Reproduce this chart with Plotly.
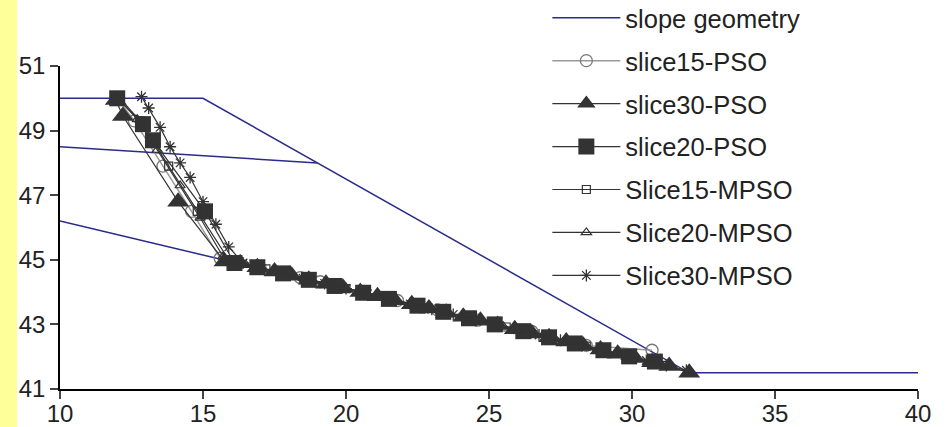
import plotly.graph_objects as go

# slope geometry (segments separated by None)
geom_x = [10, 15, 32, 40, None, 10, 19, None, 10, 15.7]
geom_y = [50, 50, 41.5, 41.5, None, 48.5, 48.0, None, 46.2, 45.0]

s15_pso_x = [12.0, 12.6, 13.6, 14.6, 15.6, 17.0, 18.4, 19.1, 20.5, 21.8, 22.5, 23.2, 24.6, 26.5, 28.4, 30.7]
s15_pso_y = [50.0, 49.3, 47.9, 46.5, 45.05, 44.75, 44.45, 44.32, 44.0, 43.74, 43.6, 43.45, 43.13, 42.78, 42.35, 42.2]

s30_pso_x = [11.95, 12.2, 14.13, 15.75, 16.3, 16.9, 17.5, 18.1, 18.7, 19.3, 19.9, 20.5, 21.1, 21.7, 22.3, 22.9,
             23.5, 24.1, 24.7, 25.3, 25.9, 26.5, 27.1, 27.7, 28.3, 28.9, 29.5, 30.1, 30.7, 31.3, 32.0]
s30_pso_y = [49.95, 49.45, 46.8, 44.95, 44.89, 44.77, 44.64, 44.51, 44.38, 44.26, 44.13, 44.0, 43.87, 43.75, 43.62, 43.49,
             43.36, 43.24, 43.11, 42.98, 42.85, 42.72, 42.6, 42.47, 42.34, 42.22, 42.09, 41.96, 41.83, 41.71, 41.5]

s20_pso_x = [12.0, 12.9, 13.25, 15.07, 16.1, 16.9, 17.8, 18.7, 19.6, 20.6, 21.5, 22.5, 23.4, 24.3, 25.2, 26.2,
             27.1, 28.0, 29.0, 29.9, 30.8]
s20_pso_y = [50.0, 49.2, 48.7, 46.5, 44.9, 44.77, 44.58, 44.38, 44.19, 43.98, 43.79, 43.58, 43.39, 43.19, 43.0, 42.79,
             42.6, 42.41, 42.2, 42.01, 41.85]

s15_mpso_x = [12.1, 12.8, 13.8, 14.8, 15.9, 17.2, 18.6, 20.0, 21.4, 22.8, 24.2, 25.6, 27.0, 28.4, 29.8, 31.2]
s15_mpso_y = [50.0, 49.3, 47.9, 46.5, 45.0, 44.72, 44.42, 44.11, 43.81, 43.51, 43.22, 42.92, 42.62, 42.33, 42.03, 41.73]

s20_mpso_x = [12.05, 12.7, 13.4, 14.2, 14.9, 15.7, 16.5, 17.5, 18.5, 19.5, 20.5, 21.5, 22.5, 23.5, 24.5, 25.5,
              26.6, 27.7, 28.8, 29.9, 31.0]
s20_mpso_y = [50.0, 49.35, 48.4, 47.3, 46.3, 45.1, 44.85, 44.64, 44.43, 44.21, 44.0, 43.79, 43.58, 43.36, 43.15, 42.94,
              42.7, 42.47, 42.24, 42.0, 41.77]

s30_mpso_x = [12.85, 13.1, 13.5, 13.85, 14.2, 14.55, 15.0, 15.45, 15.9, 16.4, 17.0, 17.75, 18.5, 19.25, 20.0, 20.75,
              21.5, 22.25, 23.0, 23.75, 24.5, 25.25, 26.0, 26.75, 27.5, 28.25, 29.0, 29.75, 30.5, 31.2, 31.9]
s30_mpso_y = [50.05, 49.7, 49.1, 48.5, 48.0, 47.55, 46.8, 46.1, 45.4, 44.9, 44.75, 44.59, 44.43, 44.27, 44.11, 43.95,
              43.79, 43.63, 43.47, 43.31, 43.15, 42.99, 42.83, 42.67, 42.51, 42.35, 42.19, 42.04, 41.88, 41.73, 41.58]

x_ticks = [10, 15, 20, 25, 30, 35, 40]
y_ticks = [41, 43, 45, 47, 49, 51]

DARK = "#333333"
NAVY = "#2a2a8c"

fig = go.Figure()
fig.add_trace(go.Scatter(x=geom_x, y=geom_y, mode="lines", name="slope geometry",
                         line=dict(color=NAVY, width=1.5), legendgroup="g0"))
fig.add_trace(go.Scatter(x=s15_pso_x, y=s15_pso_y, mode="lines+markers", name="slice15-PSO",
                         line=dict(color="#999999", width=1.5),
                         marker=dict(symbol="circle-open", size=12, color="#777777", line=dict(width=1.3)),
                         legendgroup="g1"))
fig.add_trace(go.Scatter(x=s30_pso_x, y=s30_pso_y, mode="lines+markers", name="slice30-PSO",
                         line=dict(color=DARK, width=1.2),
                         marker=dict(symbol="triangle-up", size=19, color=DARK),
                         legendgroup="g2"))
fig.add_trace(go.Scatter(x=s20_pso_x, y=s20_pso_y, mode="lines+markers", name="slice20-PSO",
                         line=dict(color=DARK, width=1.2),
                         marker=dict(symbol="square", size=16, color=DARK),
                         legendgroup="g3"))
fig.add_trace(go.Scatter(x=s15_mpso_x, y=s15_mpso_y, mode="lines+markers", name="Slice15-MPSO",
                         line=dict(color=DARK, width=1.2),
                         marker=dict(symbol="square-open", size=8, color=DARK, line=dict(width=1.2)),
                         legendgroup="g4"))
fig.add_trace(go.Scatter(x=s20_mpso_x, y=s20_mpso_y, mode="lines+markers", name="Slice20-MPSO",
                         line=dict(color=DARK, width=1.2),
                         marker=dict(symbol="triangle-up-open", size=9, color=DARK, line=dict(width=1.2)),
                         legendgroup="g5"))
fig.add_trace(go.Scatter(x=s30_mpso_x, y=s30_mpso_y, mode="lines+markers", name="Slice30-MPSO",
                         line=dict(color=DARK, width=1.2),
                         marker=dict(symbol="asterisk-open", size=10, color=DARK, line=dict(width=1.3, color=DARK)),
                         legendgroup="g6"))

fig.update_layout(
    width=947, height=427,
    margin=dict(l=60, r=29, t=66, b=38, autoexpand=False),
    paper_bgcolor="white", plot_bgcolor="white",
    font=dict(family="Liberation Sans, Arial, sans-serif", color="#222222"),
    showlegend=True,
    legend=dict(x=0.568, y=1.221, xanchor="left", yanchor="top",
                font=dict(size=25.5, color="#222222"), bgcolor="rgba(0,0,0,0)",
                itemwidth=68, tracegroupgap=6.8, traceorder="grouped", maxheight=420),
    shapes=[dict(type="rect", xref="paper", yref="paper", x0=-60/858, x1=-43/858, y0=-0.2, y1=1.3,
                 fillcolor="#ffff99", line=dict(width=0), layer="below")],
)
fig.update_xaxes(range=[10, 40], tickvals=x_ticks, ticks="outside", ticklen=8, tickwidth=1.5,
                 showline=True, linecolor="black", linewidth=1.5, showgrid=False, zeroline=False,
                 tickfont=dict(size=24, color="#222222"), ticklabelstandoff=-6)
fig.update_yaxes(range=[41, 51], tickvals=y_ticks, ticks="outside", ticklen=8, tickwidth=1.5,
                 showline=True, linecolor="black", linewidth=1.5, showgrid=False, zeroline=False,
                 tickfont=dict(size=24, color="#222222"))

fig.write_html("out.html", config={"displayModeBar": False},
               post_script="document.body.style.margin='0';document.body.style.padding='0';")
